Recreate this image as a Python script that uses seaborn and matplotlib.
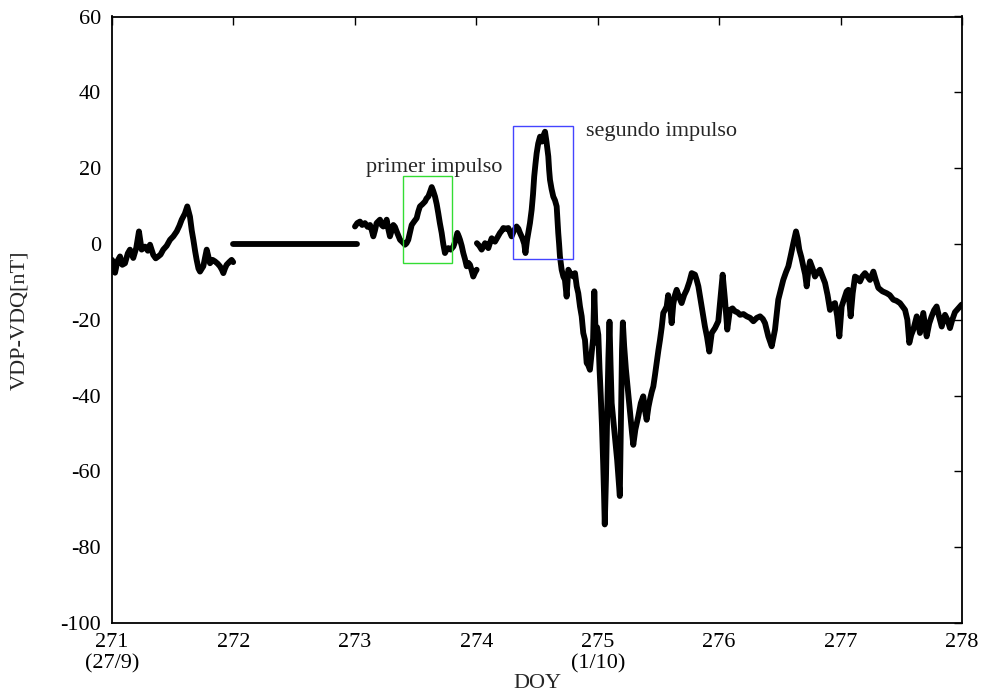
import numpy as np
import pandas as pd
import seaborn as sns
import matplotlib
matplotlib.use("Agg")
import matplotlib.pyplot as plt
from matplotlib.patches import Rectangle

# ---------------- data ----------------
seg_a_doy = [271.000, 271.025, 271.045, 271.066, 271.085, 271.107, 271.130, 271.148, 271.175, 271.200,
             271.222, 271.244, 271.272, 271.295, 271.313, 271.340, 271.360, 271.381, 271.400, 271.422,
             271.450, 271.478, 271.505, 271.533, 271.555, 271.574, 271.600, 271.620, 271.642, 271.657,
             271.670, 271.685, 271.697, 271.712, 271.725, 271.740, 271.752, 271.767, 271.780, 271.795,
             271.807, 271.828, 271.848, 271.870, 271.889, 271.905, 271.917, 271.930, 271.944, 271.965,
             271.985, 271.998]
seg_a_val = [-4.2, -7.6, -4.5, -3.3, -5.5, -5.1, -2.5, -1.5, -3.7, -1.0,
             3.3, -1.5, -0.7, -1.8, -0.2, -2.9, -3.8, -3.3, -2.8, -1.5,
             -0.5, 1.1, 2.0, 3.3, 4.8, 6.4, 8.0, 9.9, 7.2, 3.5,
             1.1, -2.0, -4.2, -6.5, -7.3, -6.5, -5.9, -3.5, -1.5, -3.5,
             -5.1, -4.2, -4.6, -5.2, -5.9, -6.8, -7.7, -6.5, -5.5, -4.8,
             -4.2, -4.8]

seg_b_doy = [272.0, 273.015]
seg_b_val = [0.0, 0.0]

seg_c_doy = [273.001, 273.020, 273.042, 273.060, 273.083, 273.105, 273.125, 273.140, 273.152, 273.165,
             273.179, 273.207, 273.220, 273.234, 273.250, 273.262, 273.275, 273.289, 273.303, 273.317,
             273.330, 273.344, 273.358, 273.372, 273.392, 273.413, 273.426, 273.440, 273.455, 273.468,
             273.490, 273.509, 273.522, 273.536, 273.557, 273.578, 273.590, 273.605, 273.620, 273.633,
             273.645, 273.660, 273.674, 273.687, 273.700, 273.715, 273.728, 273.742, 273.756, 273.770,
             273.790, 273.811, 273.828, 273.844, 273.856, 273.866, 273.880, 273.893, 273.907, 273.921,
             273.935, 273.948, 273.962, 273.975, 273.990, 274.003]
seg_c_val = [4.6, 5.5, 5.9, 5.0, 5.5, 4.5, 5.0, 3.5, 2.0, 3.5,
             5.5, 6.4, 5.0, 4.6, 5.5, 6.4, 4.0, 2.0, 3.5, 5.0,
             4.5, 3.3, 2.2, 1.1, 0.5, -0.2, 0.2, 1.1, 3.2, 5.0,
             6.0, 6.8, 8.5, 9.9, 10.5, 11.2, 12.0, 12.5, 13.8, 15.0,
             14.0, 12.5, 10.5, 8.1, 5.5, 2.9, 0.0, -2.4, -1.5, -1.1,
             -1.5, -0.7, 0.8, 2.9, 2.0, 1.1, -0.5, -2.4, -4.0, -5.9,
             -5.0, -5.5, -7.0, -8.6, -7.5, -6.8]

seg_d_doy = [274.005, 274.025, 274.044, 274.058, 274.072, 274.085, 274.099, 274.113, 274.127, 274.140,
             274.154, 274.175, 274.195, 274.210, 274.223, 274.245, 274.264, 274.278, 274.291, 274.310,
             274.332, 274.347, 274.360, 274.380, 274.395, 274.405, 274.418, 274.428, 274.442, 274.456,
             274.467, 274.477, 274.487, 274.497, 274.510, 274.525, 274.540, 274.552, 274.566, 274.578,
             274.593, 274.600, 274.607, 274.620, 274.634, 274.648, 274.662, 274.669, 274.675, 274.682,
             274.689, 274.703, 274.717, 274.730, 274.744, 274.758, 274.772, 274.785, 274.799, 274.813,
             274.827, 274.840, 274.854, 274.868, 274.881, 274.895, 274.909, 274.922, 274.936, 274.950,
             274.962, 274.972, 274.985, 274.995, 275.005, 275.015, 275.025, 275.035, 275.045, 275.052,
             275.058, 275.068, 275.078, 275.088, 275.097, 275.106, 275.115, 275.130, 275.145, 275.160,
             275.172, 275.182, 275.192, 275.200, 275.207, 275.218, 275.232, 275.250, 275.268, 275.283,
             275.293, 275.310, 275.334, 275.355, 275.375, 275.390, 275.403, 275.418, 275.430, 275.445,
             275.458, 275.472, 275.485, 275.500, 275.513, 275.527, 275.540, 275.554, 275.568, 275.580,
             275.595, 275.609, 275.622, 275.636, 275.650, 275.670, 275.691, 275.712, 275.733, 275.755,
             275.774, 275.801, 275.815, 275.829, 275.856, 275.883, 275.900, 275.919, 275.939, 275.966,
             275.993, 276.007, 276.029, 276.048, 276.067, 276.089, 276.110, 276.131, 276.150, 276.172,
             276.200, 276.227, 276.255, 276.282, 276.310, 276.337, 276.360, 276.378, 276.405, 276.433,
             276.460, 276.487, 276.508, 276.528, 276.550, 276.570, 276.590, 276.611, 276.633, 276.646,
             276.660, 276.677, 276.693, 276.708, 276.721, 276.735, 276.748, 276.770, 276.789, 276.810,
             276.830, 276.850, 276.872, 276.893, 276.913, 276.935, 276.954, 276.972, 276.990, 277.009,
             277.036, 277.050, 277.064, 277.083, 277.100, 277.119, 277.140, 277.160, 277.180, 277.201,
             277.220, 277.242, 277.270, 277.290, 277.311, 277.345, 277.380, 277.405, 277.434, 277.460,
             277.489, 277.531, 277.550, 277.566, 277.582, 277.599, 277.627, 277.654, 277.681, 277.709,
             277.730, 277.750, 277.770, 277.791, 277.810, 277.833, 277.860, 277.880, 277.901, 277.920,
             277.942, 277.970, 277.997]
seg_d_val = [0.2, -0.5, -1.5, -0.7, 0.2, -0.3, -1.1, 0.3, 1.5, 1.0,
             0.6, 1.8, 2.9, 3.5, 4.2, 4.0, 4.2, 3.0, 2.0, 3.5,
             4.6, 4.0, 2.9, 1.5, 0.0, -2.4, 1.0, 2.9, 5.5, 9.0,
             13.0, 17.8, 21.0, 23.9, 26.5, 28.3, 27.0, 28.5, 29.6, 27.0,
             23.1, 19.5, 16.9, 14.5, 12.5, 11.5, 9.9, 6.0, 2.9, 0.0,
             -3.3, -6.8, -8.6, -9.5, -13.9, -6.8, -7.7, -8.0, -8.6, -7.7,
             -11.2, -13.0, -16.5, -19.1, -23.5, -25.3, -31.4, -32.0, -33.2, -28.8,
             -25.0, -12.5, -26.0, -22.0, -24.0, -33.0, -40.0, -48.0, -58.0, -66.0,
             -74.0, -62.0, -45.0, -30.0, -20.5, -32.0, -42.0, -47.0, -52.0, -57.0,
             -62.0, -66.5, -45.0, -28.0, -20.7, -27.0, -33.0, -39.0, -45.0, -50.0,
             -53.0, -49.0, -45.5, -42.0, -40.2, -44.0, -46.4, -43.0, -41.1, -39.0,
             -37.6, -34.5, -31.4, -28.0, -25.3, -22.0, -18.2, -17.4, -16.5, -13.5,
             -15.6, -20.9, -16.0, -13.5, -12.1, -14.0, -15.6, -13.5, -12.1, -10.0,
             -7.7, -8.1, -9.5, -11.2, -16.5, -21.8, -24.5, -28.4, -23.5, -22.2,
             -20.4, -15.6, -8.1, -14.7, -22.6, -17.4, -17.0, -17.8, -18.0, -18.7,
             -18.5, -19.1, -19.5, -20.4, -19.5, -19.1, -19.8, -20.9, -24.4, -27.0,
             -22.6, -14.7, -12.0, -9.5, -7.5, -5.9, -3.0, 0.2, 3.3, 1.5,
             -1.5, -3.5, -5.9, -8.0, -11.2, -7.0, -4.6, -6.5, -8.6, -7.5,
             -6.8, -8.5, -10.3, -13.5, -17.4, -16.0, -15.6, -19.0, -24.4, -16.5,
             -13.9, -12.5, -12.1, -19.1, -13.0, -8.6, -9.0, -9.9, -8.5, -7.7,
             -8.5, -9.5, -7.3, -9.5, -11.6, -12.5, -13.0, -13.5, -14.7, -15.0,
             -15.6, -17.4, -20.0, -26.1, -24.0, -22.6, -19.1, -23.5, -18.2, -24.4,
             -21.0, -19.1, -17.5, -16.5, -19.0, -21.8, -18.7, -20.0, -22.2, -20.0,
             -18.0, -17.0, -16.0]

x_ticks = [271, 272, 273, 274, 275, 276, 277, 278]
x_tick_labels = ["271\n(27/9)", "272", "273", "274", "275\n(1/10)", "276", "277", "278"]
y_ticks = [-100, -80, -60, -40, -20, 0, 20, 40, 60]

box1_label = "primer impulso"
box2_label = "segundo impulso"

# ---------------- build table ----------------
frames = []
for i, (d, v) in enumerate([(seg_a_doy, seg_a_val), (seg_b_doy, seg_b_val),
                            (seg_c_doy, seg_c_val), (seg_d_doy, seg_d_val)]):
    frames.append(pd.DataFrame({"DOY": d, "VDP-VDQ": v, "seg": i}))
df = pd.concat(frames, ignore_index=True)

# ---------------- plot ----------------
sns.set_theme(style="white")
plt.rcParams["font.family"] = ["Liberation Serif", "DejaVu Serif"]
plt.rcParams["font.size"] = 16
plt.rcParams["axes.unicode_minus"] = False

fig = plt.figure(figsize=(9.85, 6.93), dpi=100)
ax = fig.add_axes([112 / 985, 1 - 623 / 693, (962 - 112) / 985, (623 - 16.5) / 693])

sns.lineplot(data=df, x="DOY", y="VDP-VDQ", units="seg", estimator=None, sort=False,
             color="black", linewidth=4.2, legend=False, ax=ax,
             solid_joinstyle="round", solid_capstyle="round")

ax.add_patch(Rectangle((273.40, -5), 0.40, 23, fill=False, edgecolor="#33dd33", linewidth=1.0, zorder=3))
ax.add_patch(Rectangle((274.30, -4), 0.50, 35, fill=False, edgecolor="#4444ff", linewidth=1.0, zorder=3))
ax.text(273.09, 19.1, box1_label, ha="left", va="baseline", fontsize=16)
ax.text(274.905, 28.6, box2_label, ha="left", va="baseline", fontsize=16)

ax.set_xlim(271, 278)
ax.set_ylim(-100, 60)
ax.set_xticks(x_ticks)
ax.set_xticklabels(x_tick_labels)
ax.set_yticks(y_ticks)
ax.tick_params(axis="both", which="major", direction="in", length=5.8, width=1.0,
               top=True, right=True, labelsize=16, color="black", labelcolor="black")
ax.tick_params(axis="y", pad=8)
ax.tick_params(axis="x", pad=7)
for s in ax.spines.values():
    s.set_visible(True)
    s.set_color("black")
    s.set_linewidth(1.3)

ax.set_xlabel("DOY", fontsize=16, labelpad=0)
ax.set_ylabel("VDP-VDQ[nT]", fontsize=16, labelpad=22)

fig.savefig("out.png", dpi=100, facecolor="white")
